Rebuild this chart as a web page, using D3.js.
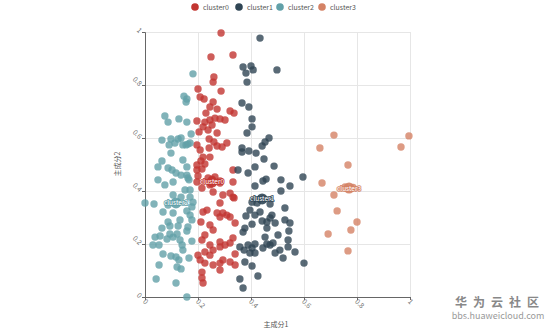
<!DOCTYPE html>
<html><head><meta charset="utf-8">
<script src="https://cdn.jsdelivr.net/npm/d3@7"></script>
<style>body{margin:0;background:#fff}svg{display:block}</style>
</head><body>
<svg id="c" width="554" height="330"></svg>
<script>
const seriesNames = ["cluster0","cluster1","cluster2","cluster3"];
const colors = ["#c23531","#2f4554","#61a0a8","#d48265"];
const xTicks = [0,0.2,0.4,0.6,0.8,1];
const yTicks = [0,0.2,0.4,0.6,0.8,1];
const xAxisName = "主成分1";
const yAxisName = "主成分2";

const cluster0 = [[0.287,0.996],[0.332,0.913],[0.249,0.906],[0.260,0.830],[0.257,0.811],[0.200,0.785],[0.287,0.777],[0.208,0.755],[0.223,0.747],[0.257,0.736],[0.245,0.717],[0.272,0.709],[0.321,0.702],[0.336,0.694],[0.230,0.694],[0.196,0.664],[0.226,0.660],[0.245,0.668],[0.264,0.675],[0.283,0.672],[0.302,0.668],[0.219,0.642],[0.238,0.630],[0.253,0.649],[0.272,0.619],[0.204,0.623],[0.242,0.596],[0.260,0.585],[0.272,0.570],[0.309,0.581],[0.291,0.566],[0.196,0.574],[0.208,0.555],[0.242,0.562],[0.219,0.528],[0.245,0.528],[0.211,0.513],[0.196,0.498],[0.226,0.502],[0.196,0.479],[0.215,0.483],[0.200,0.457],[0.238,0.449],[0.253,0.445],[0.264,0.453],[0.283,0.438],[0.196,0.434],[0.215,0.411],[0.245,0.423],[0.257,0.396],[0.283,0.430],[0.294,0.385],[0.321,0.392],[0.332,0.377],[0.283,0.355],[0.219,0.321],[0.234,0.328],[0.272,0.317],[0.283,0.302],[0.294,0.317],[0.309,0.309],[0.321,0.302],[0.340,0.279],[0.211,0.283],[0.245,0.272],[0.257,0.253],[0.226,0.234],[0.215,0.215],[0.283,0.208],[0.321,0.204],[0.302,0.196],[0.283,0.189],[0.245,0.196],[0.257,0.177],[0.226,0.170],[0.245,0.158],[0.200,0.158],[0.208,0.140],[0.226,0.128],[0.257,0.121],[0.283,0.128],[0.294,0.140],[0.321,0.132],[0.340,0.121],[0.283,0.102],[0.215,0.094],[0.215,0.072],[0.219,0.053],[0.332,0.479],[0.332,0.434],[0.336,0.374],[0.332,0.223],[0.340,0.162]];
const cluster1 = [[0.434,0.977],[0.370,0.868],[0.400,0.872],[0.408,0.857],[0.381,0.845],[0.498,0.857],[0.385,0.811],[0.366,0.732],[0.392,0.717],[0.404,0.672],[0.404,0.642],[0.385,0.619],[0.468,0.600],[0.453,0.585],[0.442,0.570],[0.366,0.562],[0.366,0.547],[0.392,0.551],[0.419,0.543],[0.449,0.521],[0.351,0.479],[0.389,0.468],[0.415,0.491],[0.487,0.494],[0.596,0.453],[0.445,0.438],[0.457,0.445],[0.513,0.442],[0.547,0.419],[0.415,0.419],[0.513,0.400],[0.404,0.358],[0.423,0.355],[0.472,0.351],[0.528,0.336],[0.396,0.328],[0.415,0.309],[0.434,0.321],[0.479,0.309],[0.472,0.298],[0.381,0.306],[0.460,0.283],[0.491,0.279],[0.528,0.291],[0.547,0.279],[0.442,0.287],[0.404,0.275],[0.377,0.260],[0.460,0.260],[0.543,0.249],[0.370,0.245],[0.502,0.234],[0.453,0.226],[0.540,0.215],[0.358,0.189],[0.374,0.177],[0.389,0.196],[0.404,0.185],[0.415,0.200],[0.396,0.166],[0.415,0.166],[0.445,0.185],[0.460,0.200],[0.472,0.196],[0.483,0.204],[0.491,0.166],[0.509,0.177],[0.521,0.147],[0.540,0.189],[0.566,0.170],[0.377,0.132],[0.404,0.117],[0.600,0.128],[0.426,0.079],[0.358,0.068],[0.370,0.034]];
const cluster2 = [[0.181,0.842],[0.147,0.758],[0.158,0.747],[0.155,0.736],[0.075,0.683],[0.087,0.660],[0.128,0.672],[0.158,0.660],[0.174,0.615],[0.064,0.592],[0.098,0.596],[0.091,0.574],[0.113,0.581],[0.125,0.596],[0.136,0.600],[0.143,0.574],[0.155,0.574],[0.162,0.577],[0.170,0.581],[0.098,0.543],[0.064,0.513],[0.049,0.491],[0.087,0.487],[0.102,0.479],[0.143,0.517],[0.158,0.491],[0.117,0.468],[0.136,0.460],[0.158,0.460],[0.166,0.442],[0.049,0.442],[0.106,0.434],[0.162,0.449],[0.075,0.423],[0.151,0.404],[0.170,0.404],[0.106,0.385],[0.136,0.377],[0.170,0.377],[0.0,0.355],[0.034,0.351],[0.087,0.347],[0.181,0.358],[0.177,0.340],[0.106,0.317],[0.158,0.325],[0.068,0.321],[0.170,0.309],[0.177,0.291],[0.087,0.283],[0.132,0.291],[0.094,0.268],[0.125,0.268],[0.064,0.260],[0.162,0.264],[0.038,0.226],[0.057,0.230],[0.094,0.238],[0.121,0.238],[0.158,0.249],[0.177,0.211],[0.030,0.196],[0.053,0.196],[0.083,0.219],[0.106,0.226],[0.132,0.215],[0.140,0.196],[0.143,0.177],[0.068,0.162],[0.098,0.155],[0.117,0.151],[0.128,0.140],[0.166,0.147],[0.053,0.121],[0.121,0.113],[0.136,0.106],[0.042,0.068],[0.117,0.053],[0.158,0.0]];
const cluster3 = [[0.713,0.611],[0.996,0.608],[0.660,0.562],[0.966,0.566],[0.766,0.498],[0.668,0.430],[0.713,0.385],[0.725,0.325],[0.800,0.283],[0.777,0.253],[0.691,0.238],[0.766,0.174],[0.755,0.415],[0.785,0.413]];
const centroids = [[0.253,0.434],[0.442,0.370],[0.117,0.355],[0.770,0.411]];

const svg = d3.select("#c");
const x = d3.scaleLinear().domain([0,1]).range([145,410]);
const y = d3.scaleLinear().domain([0,1]).range([297,32]);
const font = "'Noto Sans CJK SC','Noto Sans',sans-serif";

// grid
svg.append("g").selectAll("line.gx").data(xTicks.slice(1)).join("line")
  .attr("x1",d=>x(d)).attr("x2",d=>x(d)).attr("y1",y(0)).attr("y2",y(1))
  .attr("stroke","#e6e6e6").attr("stroke-width",1).attr("shape-rendering","crispEdges");
svg.append("g").selectAll("line.gy").data(yTicks.slice(1)).join("line")
  .attr("x1",x(0)).attr("x2",x(1)).attr("y1",d=>y(d)).attr("y2",d=>y(d))
  .attr("stroke","#e6e6e6").attr("stroke-width",1).attr("shape-rendering","crispEdges");

// axes
const xAxis = svg.append("g").attr("transform",`translate(0,${y(0)})`)
  .call(d3.axisBottom(x).tickValues(xTicks).tickSize(3).tickFormat(d3.format("~g")));
const yAxis = svg.append("g").attr("transform",`translate(${x(0)},0)`)
  .call(d3.axisLeft(y).tickValues(yTicks).tickSize(3).tickFormat(d3.format("~g")));
[xAxis,yAxis].forEach(a=>{
  a.select(".domain").attr("stroke","#666");
  a.selectAll(".tick line").attr("stroke","#666");
  a.selectAll("text").attr("fill","#777").attr("font-size",7).attr("font-family",font);
});
xAxis.selectAll("text").attr("text-anchor","start").attr("dy",0).attr("y",0)
  .attr("transform","translate(-3,5) rotate(45)");
yAxis.selectAll("text").attr("text-anchor","end").attr("dy",0).attr("x",0)
  .attr("transform","translate(-6,1) rotate(45)");

svg.append("text").attr("x",276).attr("y",327).attr("text-anchor","middle")
  .attr("font-size",7).attr("fill","#555").attr("font-family",font).text(xAxisName);
svg.append("text").attr("transform","translate(120,164) rotate(-90)").attr("text-anchor","middle")
  .attr("font-size",7).attr("fill","#555").attr("font-family",font).text(yAxisName);

// points
const all = [cluster0,cluster1,cluster2,cluster3];
all.forEach((pts,i)=>{
  svg.append("g").selectAll("circle").data(pts).join("circle")
    .attr("cx",d=>x(d[0])).attr("cy",d=>y(d[1])).attr("r",3.7)
    .attr("fill",colors[i]).attr("fill-opacity",0.8);
});

// centroids
const cg = svg.append("g");
centroids.forEach((c,i)=>{
  cg.append("circle").attr("cx",x(c[0])).attr("cy",y(c[1])).attr("r",5.5)
    .attr("fill",colors[i]).attr("fill-opacity",0.9);
  cg.append("text").attr("x",x(c[0])).attr("y",y(c[1])+2.5).attr("text-anchor","middle")
    .attr("font-size",6.5).attr("font-family",font).attr("fill","#fff")
    .attr("stroke",colors[i]).attr("stroke-width",1.5).attr("paint-order","stroke")
    .text(seriesNames[i]);
});

// legend
const legendX = [195,239,280,322];
const lg = svg.append("g");
seriesNames.forEach((n,i)=>{
  lg.append("circle").attr("cx",legendX[i]).attr("cy",7).attr("r",3.8).attr("fill",colors[i]);
  lg.append("text").attr("x",legendX[i]+8).attr("y",9.5).attr("font-size",7)
    .attr("font-family",font).attr("fill","#555").text(n);
});

// watermark
svg.append("text").attr("x",500).attr("y",307).attr("text-anchor","middle")
  .attr("font-size",12).attr("font-weight","bold").attr("letter-spacing",6)
  .attr("font-family",font).attr("fill","#888").text("华为云社区");
svg.append("text").attr("x",498).attr("y",319).attr("text-anchor","middle")
  .attr("font-size",9).attr("font-family",font).attr("fill","#999").text("bbs.huaweicloud.com");
</script>
</body></html>
